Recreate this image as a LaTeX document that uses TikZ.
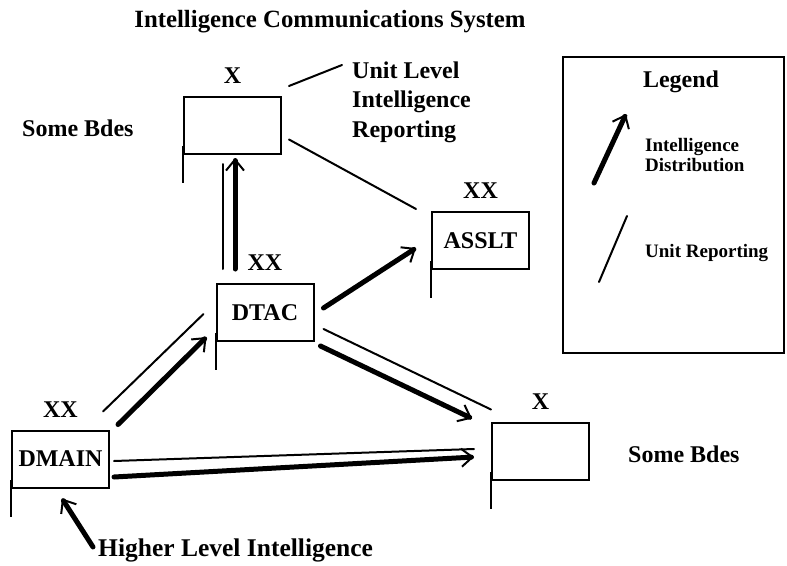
\documentclass[tikz,border=0pt]{standalone}
\usepackage{fontspec}
\setmainfont{Liberation Serif}
\usetikzlibrary{arrows.meta,calc}

\tikzset{
  bigtext/.style={font=\bfseries\fontsize{24}{29.5}\selectfont, inner sep=0pt},
  smalltext/.style={font=\bfseries\fontsize{19}{19.5}\selectfont, inner sep=0pt},
  unitbox/.style={draw, line width=2pt, minimum width=97pt, minimum height=57pt,
    inner sep=0pt, font=\bfseries\fontsize{24}{28}\selectfont},
  echelon/.style={bigtext, label distance=12pt},
  staff/.style={line width=2pt},
  report/.style={line width=2pt, line cap=round},
  distrib/.style={line width=5pt, line cap=round,
    -{Straight Barb[length=11pt,width=18pt,line width=2pt]}},
}

\begin{document}
\begin{tikzpicture}[x=1pt,y=-1pt]
  \useasboundingbox (0,0) rectangle (787,565);

  % title
  \node[bigtext, font=\bfseries\fontsize{24.8}{29.5}\selectfont, anchor=base] (title) at (330,27)
    {Intelligence Communications System};

  % unit boxes with echelon marks
  \node[unitbox, label={[echelon, name=bdeTopEch]above:X}]   (bdeTop) at (232.5,125.5) {};
  \node[unitbox, label={[echelon, name=dtacEch]above:XX}]    (dtac)   at (265,312.5) {DTAC};
  \node[unitbox, label={[echelon, name=dmainEch]above:XX}]   (dmain)  at (60.5,459) {DMAIN};
  \node[unitbox, label={[echelon, name=assltEch]above:XX}]   (asslt)  at (480.5,240.5) {ASSLT};
  \node[unitbox, label={[echelon, name=bdeLowEch]above:X}]   (bdeLow) at (540.5,451) {};

  % flag staffs
  \foreach \b in {bdeTop,dtac,dmain,asslt,bdeLow}
    \draw[staff] ([yshift=9pt]\b.south west) -- ++(0,37);

  % free-standing labels
  \node[bigtext, anchor=base west] (someBdesTop) at (22,136) {Some Bdes};
  \node[bigtext, anchor=base west] (someBdesLow) at (628,462) {Some Bdes};
  \node[bigtext, anchor=north west, align=left] (unitLevel) at (352,61.5)
    {Unit Level\\Intelligence\\Reporting};
  \node[bigtext, font=\bfseries\fontsize{25.5}{29.5}\selectfont, anchor=base west] (higher) at (98,556)
    {Higher Level Intelligence};

  % unit reporting lines
  \draw[report] ([shift={(7,-10)}]bdeTop.north east) -- ([shift={(-10,3.5)}]unitLevel.north west);
  \draw[report] ([shift={(7,14)}]bdeTop.east) -- ([shift={(-15,-2)}]asslt.north west);
  \draw[report] ([shift={(-42,-14)}]dtac.north) -- ([shift={(-9.5,9)}]bdeTop.south);
  \draw[report] ([shift={(-7,-18)}]dmain.north east) -- ([shift={(-12,1.5)}]dtac.west);
  \draw[report] ([shift={(9,16.5)}]dtac.east) -- ([shift={(0,-12)}]bdeLow.north west);
  \draw[report] ([shift={(4,2)}]dmain.east) -- ([shift={(-17,-2)}]bdeLow.west);

  % intelligence distribution arrows
  \draw[distrib] ([shift={(-30,-14)}]dtac.north) -- ([shift={(2.5,3)}]bdeTop.south);
  \draw[distrib] ([shift={(8,-5)}]dmain.north east) -- ([shift={(-9,-5)}]dtac.south west);
  \draw[distrib] ([shift={(9,-4.5)}]dtac.east) -- ([shift={(-15,7.5)}]asslt.west);
  \draw[distrib] ([shift={(6,4)}]dtac.south east) -- ([shift={(-19,-3)}]bdeLow.north west);
  \draw[distrib] ([shift={(4,18)}]dmain.east) -- ([shift={(-17,6)}]bdeLow.west);
  \draw[distrib] ([shift={(-5,-3)}]higher.west) -- ([shift={(1.5,10)}]dmain.south);

  % legend
  \node[draw, line width=2pt, minimum width=221pt, minimum height=296pt, inner sep=0pt]
    (legend) at (673.5,205) {};
  \node[bigtext, anchor=base] (legendTitle) at (681,87) {Legend};
  \draw[distrib] ([shift={(32,127)}]legend.north west) -- ([shift={(64,58)}]legend.north west);
  \node[smalltext, anchor=north west, align=left] (distText) at (645,138.5)
    {Intelligence\\Distribution};
  \draw[report] ([shift={(37,226)}]legend.north west) -- ([shift={(65,160)}]legend.north west);
  \node[smalltext, anchor=base west] (reportText) at (645,257) {Unit Reporting};
\end{tikzpicture}
\end{document}
